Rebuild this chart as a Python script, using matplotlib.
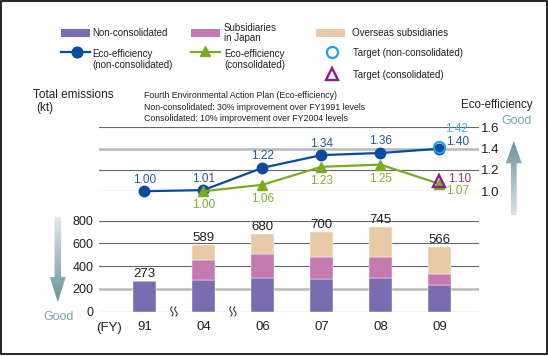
import numpy as np
import matplotlib
matplotlib.use('Agg')
import matplotlib.pyplot as plt
from matplotlib.patches import Rectangle, Polygon
from matplotlib.colors import LinearSegmentedColormap

plt.rcParams['font.family'] = ['Liberation Sans', 'DejaVu Sans']

# ---------------- data ----------------
years = ['91', '04', '06', '07', '08', '09']
non_consolidated = [273, 275, 294, 283, 294, 232]
subsidiaries_japan = [0, 180, 211, 199, 185, 98]
overseas = [0, 134, 175, 218, 266, 236]
totals = [273, 589, 680, 700, 745, 566]

eff_non = [1.00, 1.01, 1.22, 1.34, 1.36, 1.40]
eff_con_years = ['04', '06', '07', '08', '09']
eff_con = [1.00, 1.06, 1.23, 1.25, 1.07]
target_year = '09'
target_non = 1.42
target_con = 1.10

emis_ticks = [0, 200, 400, 600, 800]
eff_ticks = [1.0, 1.2, 1.4, 1.6]

# ---------------- styles ----------------
C_NON = '#7a6cb0'
C_SUB = '#c47ab0'
C_OVS = '#e9caa8'
BLUE = '#0a4aa0'
BLUE_T = '#1f56a8'
GREEN = '#7aab21'
GREEN_T = '#84ae2a'
LBLUE = '#1ea0e2'
LBLUE_T = '#44aee6'
PURPLE = '#8e1a8e'
PURPLE_T = '#94308f'
GOOD = '#7fa3ad'
TXT = '#222222'
GRID_D = '#666666'
GRID_L = '#b9b9b9'

W, H = 548, 356
fig = plt.figure(figsize=(W / 100, H / 100), dpi=100)

def fx(px):
    return px / W

def fy(py):
    return (H - py) / H

XL, XR = 98.5, 478.8
xlim = (-0.778, 5.668)

# ---------------- bar axes ----------------
ax_b = fig.add_axes([fx(XL), fy(311.5), fx(XR) - fx(XL), fy(220.7) - fy(311.5)])
x = np.arange(len(years))
bw = 0.385
b1 = np.array(non_consolidated)
b2 = np.array(subsidiaries_japan)
b3 = np.array(overseas)
ax_b.bar(x, b1, bw, color=C_NON, zorder=3, edgecolor='white', linewidth=0.3)
ax_b.bar(x, b2, bw, bottom=b1, color=C_SUB, zorder=3, edgecolor='white', linewidth=0.3)
ax_b.bar(x, b3, bw, bottom=b1 + b2, color=C_OVS, zorder=3, edgecolor='white', linewidth=0.3)
for xi, t in zip(x, totals):
    ax_b.annotate(str(t), (xi, t), xytext=(0, 5), textcoords='offset points',
                  ha='center', va='center', fontsize=9.5, color=TXT, zorder=5)
for v in emis_ticks:
    if v == 200:
        ax_b.axhline(v, color=GRID_L, lw=1.8, zorder=1)
    else:
        ax_b.axhline(v, color=GRID_D, lw=0.8, zorder=1 if v else 4)
ax_b.set_xlim(*xlim)
ax_b.set_ylim(0, 800)
ax_b.set_yticks(emis_ticks)
ax_b.set_yticklabels([str(v) for v in emis_ticks])
ax_b.set_xticks(x)
ax_b.set_xticklabels(years)
ax_b.tick_params(axis='y', length=0, pad=3.6, labelsize=9, labelcolor=TXT)
ax_b.tick_params(axis='x', length=0, pad=7, labelsize=9.5, labelcolor=TXT)
for s in ax_b.spines.values():
    s.set_visible(False)
ax_b.patch.set_visible(False)

# ---------------- efficiency axes ----------------
ax_t = fig.add_axes([fx(XL), fy(191.2), fx(XR) - fx(XL), fy(127.5) - fy(191.2)])
for v in eff_ticks:
    if abs(v - 1.4) < 1e-9:
        ax_t.axhline(v, color=GRID_L, lw=1.8, zorder=1)
    else:
        ax_t.axhline(v, color=GRID_D, lw=0.8, zorder=1)
ax_t.plot(x, eff_non, color=BLUE, lw=1.6, marker='o', ms=7.5, mec=BLUE, mfc=BLUE,
          clip_on=False, zorder=3)
xc = np.array([years.index(y) for y in eff_con_years])
ax_t.plot(xc, eff_con, color=GREEN, lw=1.6, marker='^', ms=7, mec=GREEN, mfc=GREEN,
          clip_on=False, zorder=4)
xt = years.index(target_year)
ax_t.plot([xt], [target_non], marker='o', ms=8, mfc='none', mec=LBLUE, mew=1.5,
          clip_on=False, zorder=5, ls='none')
ax_t.plot([xt], [target_con], marker='^', ms=8, mfc='none', mec=PURPLE, mew=1.7,
          clip_on=False, zorder=5, ls='none')

last = len(eff_non) - 1
for i, v in enumerate(eff_non):
    if i == last:
        off, ha = (5, 4.6), 'left'
    else:
        off, ha = (0, 8.3), 'center'
    ax_t.annotate(f'{v:.2f}', (x[i], v), xytext=off, textcoords='offset points',
                  ha=ha, va='center', fontsize=8.5, color=BLUE_T, zorder=6)
for j, v in enumerate(eff_con):
    if j == len(eff_con) - 1:
        off, ha = (4.5, -5.3), 'left'
    else:
        off, ha = (0, -10), 'center'
    ax_t.annotate(f'{v:.2f}', (xc[j], v), xytext=off, textcoords='offset points',
                  ha=ha, va='center', fontsize=8.5, color=GREEN_T, zorder=6)
ax_t.annotate(f'{target_non:.2f}', (xt, target_non), xytext=(4, 12.5), textcoords='offset points',
              ha='left', va='center', fontsize=8.5, color=LBLUE_T, zorder=6)
ax_t.annotate(f'{target_con:.2f}', (xt, target_con), xytext=(6, 1), textcoords='offset points',
              ha='left', va='center', fontsize=8.5, color=PURPLE_T, zorder=6)

ax_t.set_xlim(*xlim)
ax_t.set_ylim(1.0, 1.6)
ax_t.set_xticks([])
ax_t.yaxis.tick_right()
ax_t.set_yticks(eff_ticks)
ax_t.set_yticklabels([f'{v:.1f}' for v in eff_ticks])
ax_t.tick_params(axis='y', length=0, pad=1.5, labelsize=9.5, labelcolor=TXT)
for s in ax_t.spines.values():
    s.set_visible(False)
ax_t.patch.set_visible(False)

# ---------------- overlay (pixel coordinates) ----------------
ax_o = fig.add_axes([0, 0, 1, 1], zorder=10)
ax_o.patch.set_visible(False)
ax_o.axis('off')
ax_o.set_xlim(0, W)
ax_o.set_ylim(H, 0)

def grad_arrow(poly, ytop, ybot, c_top, c_bot):
    cmap = LinearSegmentedColormap.from_list('g', [c_top, c_bot])
    grad = np.linspace(0, 1, 256).reshape(-1, 1)
    xs = [p[0] for p in poly]
    im = ax_o.imshow(grad, cmap=cmap, aspect='auto', origin='upper',
                     extent=(min(xs), max(xs), ybot, ytop), zorder=2)
    pg = Polygon(poly, closed=True, facecolor='none', edgecolor='none')
    ax_o.add_patch(pg)
    im.set_clip_path(pg)

# left arrow (down)
cx, sw, hw = 57.8, 3.3, 8.0
grad_arrow([(cx - sw, 216.7), (cx + sw, 216.7), (cx + sw, 277), (cx + hw, 277),
            (cx, 302), (cx - hw, 277), (cx - sw, 277)], 216.7, 302, '#e3eaec', '#6b919b')
# right arrow (up)
cx, sw, hw = 513.8, 2.9, 8.0
grad_arrow([(cx, 141), (cx + hw, 163.3), (cx + sw, 163.3), (cx + sw, 215),
            (cx - sw, 215), (cx - sw, 163.3), (cx - hw, 163.3)], 141, 215, '#6b919b', '#dbe4e7')
ax_o.set_xlim(0, W)
ax_o.set_ylim(H, 0)

ax_o.text(59, 317.5, 'Good', ha='center', va='center', fontsize=9, color=GOOD)
ax_o.text(516.3, 120.7, 'Good', ha='center', va='center', fontsize=9, color=GOOD)
ax_o.text(532, 105, 'Eco-efficiency', ha='right', va='center', fontsize=8.3, color=TXT)
ax_o.text(33.3, 95, 'Total emissions', ha='left', va='center', fontsize=8.5, color=TXT)
ax_o.text(36, 108.3, '(kt)', ha='left', va='center', fontsize=8.5, color=TXT)
ax_o.text(96, 328.5, '(FY)', ha='left', va='center', fontsize=9.5, color=TXT)

plan = ['Fourth Environmental Action Plan (Eco-efficiency)',
        'Non-consolidated: 30% improvement over FY1991 levels',
        'Consolidated: 10% improvement over FY2004 levels']
for ty, line in zip([95, 107.3, 118.6], plan):
    ax_o.text(144.3, ty, line, ha='left', va='center', fontsize=6.3, color=TXT)

# legend
LF = 7
for (x0, c) in [(61, C_NON), (190.7, C_SUB), (316, C_OVS)]:
    ax_o.add_patch(Rectangle((x0, 29), 29, 8.3, facecolor=c, edgecolor='none'))
ax_o.text(92.7, 33.3, 'Non-consolidated', ha='left', va='center', fontsize=LF, color=TXT)
ax_o.text(224, 28.3, 'Subsidiaries', ha='left', va='center', fontsize=LF, color=TXT)
ax_o.text(224, 38.3, 'in Japan', ha='left', va='center', fontsize=LF, color=TXT)
ax_o.text(351.7, 33.3, 'Overseas subsidiaries', ha='left', va='center', fontsize=LF, color=TXT)

ax_o.plot([61, 90], [52.3, 52.3], color=BLUE, lw=1.6, clip_on=False)
ax_o.plot([76.7], [52.3], marker='o', ms=7.7, color=BLUE, clip_on=False)
ax_o.text(92.7, 54.3, 'Eco-efficiency', ha='left', va='center', fontsize=LF, color=TXT)
ax_o.text(92.7, 64.6, '(non-consolidated)', ha='left', va='center', fontsize=LF, color=TXT)

ax_o.plot([190.7, 220], [51.5, 51.5], color=GREEN, lw=1.6, clip_on=False)
ax_o.plot([205], [51.2], marker='^', ms=7.5, color=GREEN, clip_on=False)
ax_o.text(224, 54.3, 'Eco-efficiency', ha='left', va='center', fontsize=LF, color=TXT)
ax_o.text(224, 64.6, '(consolidated)', ha='left', va='center', fontsize=LF, color=TXT)

ax_o.plot([331.7], [52.3], marker='o', ms=8, mfc='none', mec=LBLUE, mew=1.6, clip_on=False)
ax_o.plot([331.7], [73.8], marker='^', ms=8.5, mfc='none', mec=PURPLE, mew=1.7, clip_on=False)
ax_o.text(353, 53.3, 'Target (non-consolidated)', ha='left', va='center', fontsize=LF, color=TXT)
ax_o.text(353, 75, 'Target (consolidated)', ha='left', va='center', fontsize=LF, color=TXT)

# axis break marks between 91|04 and 04|06
inv = ax_o.transData.inverted()
for xb in [0.5, 1.5]:
    bx, by = inv.transform(ax_b.transData.transform((xb, 0)))
    ax_o.add_patch(Rectangle((bx - 4.2, by - 1.6), 8.4, 3.2, facecolor='white',
                             edgecolor='none', zorder=3))
    t = np.linspace(-1, 1, 40)
    for dx in (-2.0, 2.0):
        ax_o.plot(bx + dx + 1.2 * np.sin(np.pi * t), by + 4.6 * t, color='#222222',
                  lw=0.7, zorder=4, clip_on=False)

# border
ax_o.add_patch(Rectangle((0.8, 1.0), 546.0, 353.0, facecolor='none',
                         edgecolor='black', lw=1.2, zorder=20))

ax_o.set_xlim(0, W)
ax_o.set_ylim(H, 0)

fig.savefig('out.png', dpi=100)
